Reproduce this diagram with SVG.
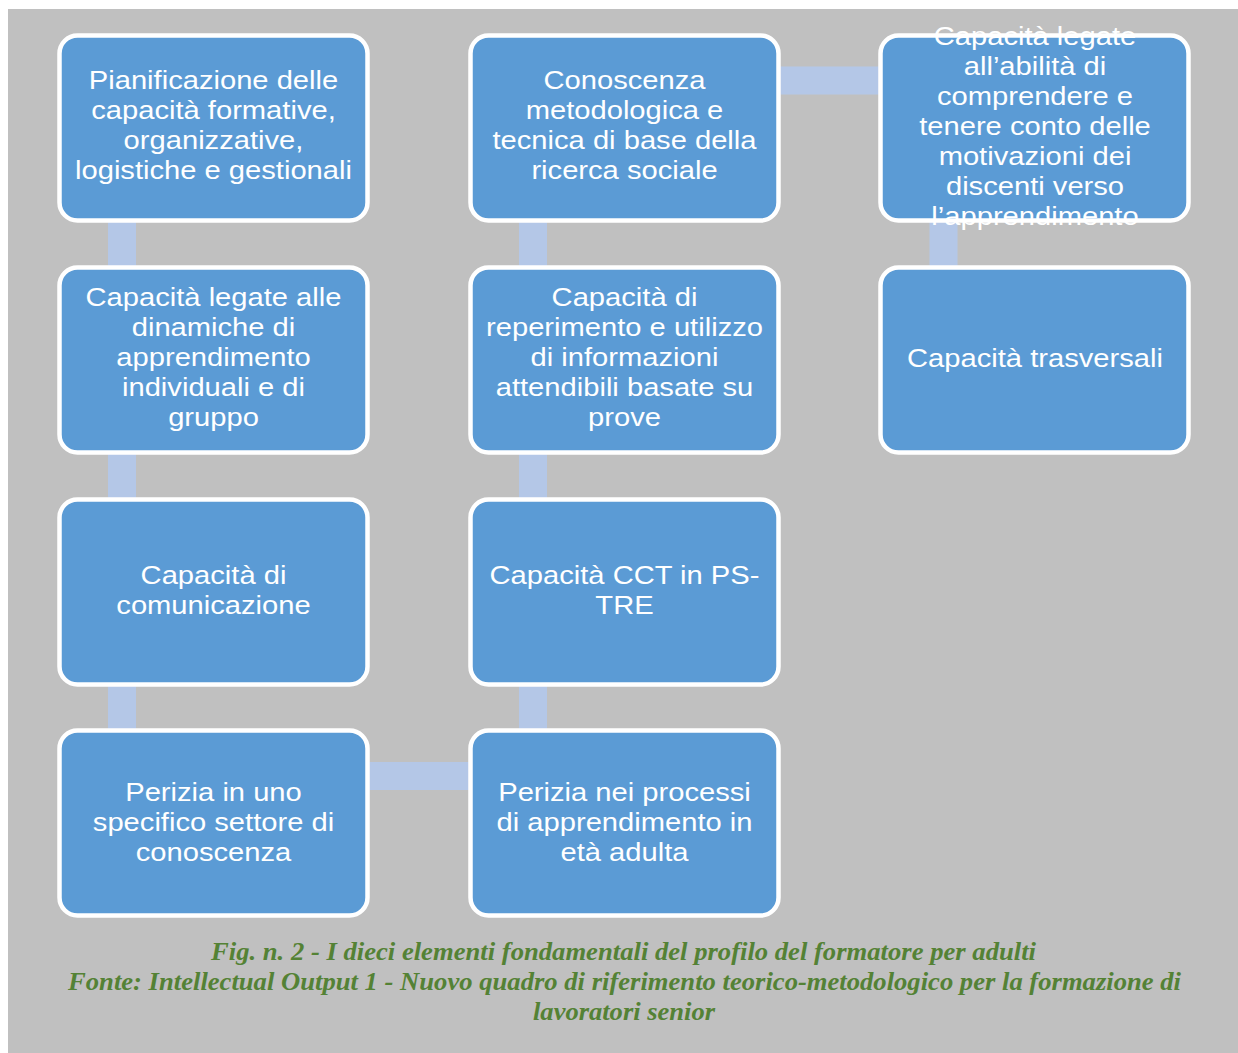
<svg xmlns="http://www.w3.org/2000/svg" width="1238" height="1053" viewBox="0 0 1238 1053">
<style>
.box{fill:#5b9bd5;stroke:#ffffff;stroke-width:4.5}
.t{font-family:"Liberation Sans",Arial,sans-serif;font-size:26.5px;fill:#ffffff;text-anchor:middle}
.con{stroke:#b4c7e7;stroke-width:28;fill:none}
.cap{font-family:"Liberation Serif","Times New Roman",serif;font-size:25px;font-weight:bold;font-style:italic;fill:#548235;text-anchor:middle}
</style>
<rect x="0" y="0" width="1238" height="1053" fill="#ffffff"/>
<rect x="8" y="9" width="1230" height="1044" fill="#c0c0c0"/>
<g id="connectors">
<line class="con" x1="122" y1="128" x2="122" y2="823"/>
<line class="con" x1="368" y1="776" x2="472" y2="776"/>
<line class="con" x1="533" y1="128" x2="533" y2="823"/>
<line class="con" x1="778" y1="80.5" x2="882" y2="80.5"/>
<line class="con" x1="943.5" y1="128" x2="943.5" y2="360"/>
</g>
<g id="n1"><rect class="box" x="59.5" y="35.5" width="308" height="185" rx="18"/>
<g transform="translate(213.5,0) scale(1.1,1)">
<text class="t" x="0" y="89">Pianificazione delle</text>
<text class="t" x="0" y="119">capacità formative,</text>
<text class="t" x="0" y="149">organizzative,</text>
<text class="t" x="0" y="179">logistiche e gestionali</text></g></g>
<g id="n2"><rect class="box" x="59.5" y="267.5" width="308" height="185" rx="18"/>
<g transform="translate(213.5,0) scale(1.1,1)">
<text class="t" x="0" y="306">Capacità legate alle</text>
<text class="t" x="0" y="336">dinamiche di</text>
<text class="t" x="0" y="366">apprendimento</text>
<text class="t" x="0" y="396">individuali e di</text>
<text class="t" x="0" y="426">gruppo</text></g></g>
<g id="n3"><rect class="box" x="59.5" y="499.5" width="308" height="185" rx="18"/>
<g transform="translate(213.5,0) scale(1.1,1)">
<text class="t" x="0" y="584">Capacità di</text>
<text class="t" x="0" y="614">comunicazione</text></g></g>
<g id="n4"><rect class="box" x="59.5" y="730.5" width="308" height="185" rx="18"/>
<g transform="translate(213.5,0) scale(1.1,1)">
<text class="t" x="0" y="801">Perizia in uno</text>
<text class="t" x="0" y="831">specifico settore di</text>
<text class="t" x="0" y="861">conoscenza</text></g></g>
<g id="n5"><rect class="box" x="470.5" y="35.5" width="308" height="185" rx="18"/>
<g transform="translate(624.5,0) scale(1.1,1)">
<text class="t" x="0" y="89">Conoscenza</text>
<text class="t" x="0" y="119">metodologica e</text>
<text class="t" x="0" y="149">tecnica di base della</text>
<text class="t" x="0" y="179">ricerca sociale</text></g></g>
<g id="n6"><rect class="box" x="470.5" y="267.5" width="308" height="185" rx="18"/>
<g transform="translate(624.5,0) scale(1.1,1)">
<text class="t" x="0" y="306">Capacità di</text>
<text class="t" x="0" y="336">reperimento e utilizzo</text>
<text class="t" x="0" y="366">di informazioni</text>
<text class="t" x="0" y="396">attendibili basate su</text>
<text class="t" x="0" y="426">prove</text></g></g>
<g id="n7"><rect class="box" x="470.5" y="499.5" width="308" height="185" rx="18"/>
<g transform="translate(624.5,0) scale(1.1,1)">
<text class="t" x="0" y="584">Capacità CCT in PS-</text>
<text class="t" x="0" y="614">TRE</text></g></g>
<g id="n8"><rect class="box" x="470.5" y="730.5" width="308" height="185" rx="18"/>
<g transform="translate(624.5,0) scale(1.1,1)">
<text class="t" x="0" y="801">Perizia nei processi</text>
<text class="t" x="0" y="831">di apprendimento in</text>
<text class="t" x="0" y="861">età adulta</text></g></g>
<g id="n9"><rect class="box" x="880.5" y="35.5" width="308" height="185" rx="18"/>
<g transform="translate(1035,0) scale(1.1,1)">
<text class="t" x="0" y="45">Capacità legate</text>
<text class="t" x="0" y="75">all’abilità di</text>
<text class="t" x="0" y="105">comprendere e</text>
<text class="t" x="0" y="135">tenere conto delle</text>
<text class="t" x="0" y="165">motivazioni dei</text>
<text class="t" x="0" y="195">discenti verso</text>
<text class="t" x="0" y="225">l’apprendimento</text></g></g>
<g id="n10"><rect class="box" x="880.5" y="267.5" width="308" height="185" rx="18"/>
<g transform="translate(1035,0) scale(1.1,1)">
<text class="t" x="0" y="367">Capacità trasversali</text></g></g>
<g id="caption">
<text class="cap" x="623.5" y="960" textLength="825" lengthAdjust="spacingAndGlyphs">Fig. n. 2 - I dieci elementi fondamentali del profilo del formatore per adulti</text>
<text class="cap" x="624.5" y="990" textLength="1113" lengthAdjust="spacingAndGlyphs">Fonte: Intellectual Output 1 - Nuovo quadro di riferimento teorico-metodologico per la formazione di</text>
<text class="cap" x="624" y="1020" textLength="182" lengthAdjust="spacingAndGlyphs">lavoratori senior</text>
</g>
</svg>
